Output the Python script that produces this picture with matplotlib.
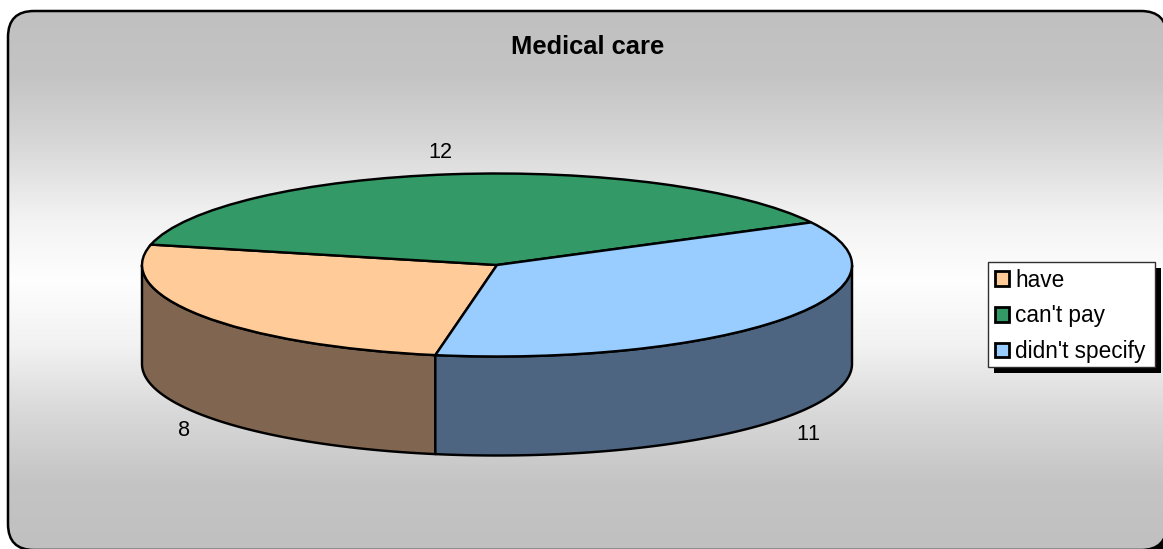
import matplotlib
matplotlib.use("Agg")
import matplotlib.pyplot as plt
from matplotlib.colors import LinearSegmentedColormap
from matplotlib.patches import FancyBboxPatch, Rectangle
import numpy as np

plt.rcParams['font.family'] = ['Liberation Sans', 'DejaVu Sans']
plt.rcParams['text.kerning_factor'] = 6

title = "Medical care"
labels = ["have", "can't pay", "didn't specify"]
values = [8, 12, 11]
top_colors = ["#ffcc99", "#339966", "#99ccff"]
side_colors = ["#806650", "#1a4d33", "#4e6582"]

W, H = 1163, 549
fig = plt.figure(figsize=(W/100, H/100), dpi=100, facecolor="white")

# background, in pixel coords
bg = fig.add_axes([0, 0, 1, 1])
bg.axis("off")

# only the bottom right corner of the shadow shows
shadow = FancyBboxPatch((60, 60), 1113, 496, boxstyle="round,pad=0,rounding_size=26",
                        fc="black", ec="black", lw=1)
bg.add_patch(shadow)
# nearly invisible face: agg mangles curves of unfilled paths that leave the canvas
frame = FancyBboxPatch((8, 11), 1159, 539, boxstyle="round,pad=0,rounding_size=26",
                       fc=(1, 1, 1, 0.002), ec="black", lw=1.8, zorder=3)
bg.add_patch(frame)
cmap = LinearSegmentedColormap.from_list("g", [
    (0, "#c0c0c0"), (0.12, "#c4c4c4"), (0.25, "#d8d8d8"), (0.38, "#f2f2f2"), (0.5, "#fefefe"),
    (0.62, "#f2f2f2"), (0.75, "#d8d8d8"), (0.88, "#c4c4c4"), (1, "#c0c0c0")])
grad = bg.imshow(np.linspace(0, 1, 256).reshape(-1, 1), cmap=cmap, aspect="auto",
                 extent=(8, 1167, 550, 11), zorder=2)
grad.set_clip_path(frame)
bg.set_xlim(0, W)
bg.set_ylim(H, 0)

bg.text(588, 47, title, fontsize=18.4, fontweight="bold", ha="center", va="center", zorder=4)
bg.text(184, 430, str(values[0]), fontsize=15.6, ha="center", va="center", zorder=4)
bg.text(440, 153, str(values[1]), fontsize=15.6, ha="center", va="center", zorder=4)
bg.text(808, 434, str(values[2]), fontsize=15.6, ha="center", va="center", zorder=4)

# legend box and its shadow
bg.add_patch(Rectangle((994, 268), 167, 105, fc="black", ec="none", zorder=4))
bg.add_patch(Rectangle((988, 262), 167, 105, fc="white", ec="#303030", lw=1, zorder=5))

# pie squashed into an ellipse
cx, cy, rx, ry = 497, 265, 355, 91.5
depth = 99 / ry
ax = fig.add_axes([0, 0, 1, 1])
ax.patch.set_visible(False)
wedges, _ = ax.pie(values, colors=top_colors, startangle=260, counterclock=False,
                   wedgeprops=dict(edgecolor="black", linewidth=1.75, zorder=3))
ax.set_aspect("auto")
ax.set_xlim(-cx/rx, (W-cx)/rx)
ax.set_ylim(-(H-cy)/ry, cy/ry)
ax.axis("off")

# side wall, only the front half of the rim shows
for w, col in zip(wedges, side_colors):
    for shift in (0, 360):
        a = max(w.theta1 + shift, 180)
        b = min(w.theta2 + shift, 360)
        if a >= b:
            continue
        t = np.radians(np.linspace(a, b, 100))
        xs = np.r_[np.cos(t), np.cos(t[::-1])]
        ys = np.r_[np.sin(t), np.sin(t[::-1]) - depth]
        ax.fill(xs, ys, fc=col, ec="black", lw=1.75, joinstyle="round", zorder=1)

leg = ax.legend(wedges, labels, loc="upper left", bbox_to_anchor=(988/W, 1-261.5/H),
                bbox_transform=fig.transFigure, borderaxespad=0, fontsize=16.3,
                frameon=False, handlelength=0.62, handleheight=0.62, handletextpad=0.25,
                labelspacing=0.555, borderpad=0.32)
for h in leg.legend_handles:
    h.set_linewidth(2)
leg.set_zorder(6)

fig.savefig("out.png", dpi=100)
